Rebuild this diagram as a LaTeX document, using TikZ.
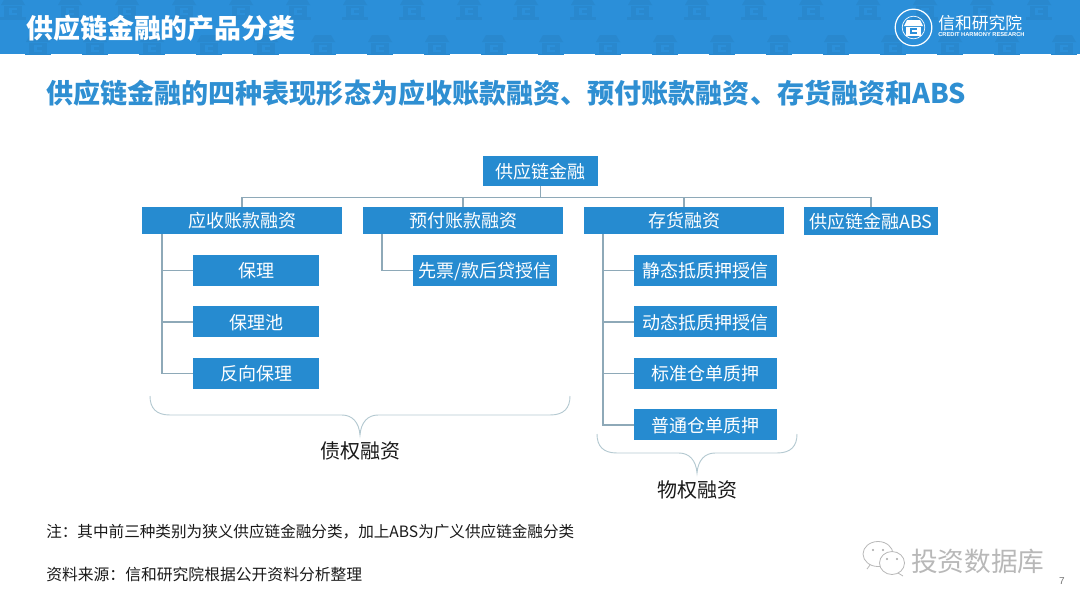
\documentclass[tikz,border=0pt]{standalone}
\usepackage{fontspec}
\setmainfont{Noto Sans CJK SC}
\newfontfamily\latinfont{Liberation Sans}
\usepackage{tikz}
\usetikzlibrary{positioning}
\definecolor{bandblue}{HTML}{2B8FD9}
\definecolor{iconblue}{HTML}{2988CE}
\definecolor{boxblue}{HTML}{268BD0}
\definecolor{headblue}{HTML}{2F8FD2}
\definecolor{linkgrey}{HTML}{8EA9B8}
\definecolor{bracegrey}{HTML}{B4C9D1}
\tikzset{
  l0/.style={fill=boxblue,text=white,font=\fontsize{13.5pt}{16pt}\selectfont,inner sep=0pt,text height=12.5pt,text depth=1.5pt,minimum width=86.25pt,minimum height=22.5pt},
  l1/.style={l0,minimum width=150pt,minimum height=20.25pt},
  l2/.style={l0,minimum width=94.5pt,minimum height=23.25pt},
  l2wide/.style={l2,minimum width=107.25pt},
  link/.style={draw=linkgrey,line width=1.1pt},
  lcurly/.style={draw=bracegrey,line width=.7pt},
  sidelabel/.style={text=black!90,font=\fontsize{15pt}{18pt}\selectfont},
  notetext/.style={anchor=west,text=black!90,font=\fontsize{11.7pt}{14pt}\selectfont},
  bankicon/.pic={
    \fill[iconblue] (-12,-3) -- (-8,-10) -- (8,-10) -- (12,-3) -- cycle;
    \fill[iconblue] (-9,-2) rectangle (9,9);
    \fill[iconblue] (-13,9) rectangle (13,12);
    \fill[bandblue] (-4,0) rectangle (4,7);
    \fill[iconblue] (-1,2) rectangle (5,5);
  }
}
\begin{document}
\begin{tikzpicture}[x=.75pt,y=-.75pt,node distance=38.6pt and 165.75pt,on grid]
  \useasboundingbox (0,0) rectangle (1080,608);
  % header
  \fill[bandblue] (0,0) rectangle (1080,54);
  \begin{scope}
    \clip (0,0) rectangle (1080,54);
    \foreach \i in {0,...,18} {
      \pic at (13+\i*57,8) {bankicon};
      \pic at (38+\i*57,45) {bankicon};
    }
  \end{scope}
  \node[anchor=west,inner sep=0pt,text=white,font=\fontsize{20.2pt}{24pt}\bfseries] (title) at (26,28) {供应链金融的产品分类};
  \node[draw=white,circle,line width=.9pt,minimum size=27.5pt,inner sep=0pt] (logo) at (913.5,27.5) {};
  \node[draw=white,circle,line width=.5pt,minimum size=17pt,inner sep=0pt] (logoin) at (logo) {};
  \fill[white] (904,26) -- (907,20) -- (920,20) -- (923,26) -- cycle;
  \fill[white] (906,27) rectangle (921,36);
  \fill[bandblue] (910,28) rectangle (917,34);
  \fill[white] (912,30) rectangle (919,32);
  \node[text=white,font=\fontsize{12.6pt}{14pt}\selectfont,anchor=west,inner sep=0pt] (brand) at (938,23) {信和研究院};
  \node[text=white,font=\latinfont\bfseries\fontsize{4.3pt}{5pt}\selectfont,anchor=west,inner sep=0pt] (branden) at (938,35) {CREDIT HARMONY RESEARCH};
  \node[anchor=west,inner sep=0pt,text=headblue,font=\fontsize{20.3pt}{24pt}\bfseries] (head) at (46,93) {供应链金融的四种表现形态为应收账款融资、预付账款融资、存货融资和ABS};
  % tree
  \node[l0] (root) at (540.5,171) {供应链金融};
  \node[l1] (ar) at (242,220.5) {应收账款融资};
  \node[l1] (pre) [right=of ar] {预付账款融资};
  \node[l1] (inv) [right=of pre] {存货融资};
  \node[l0,minimum width=100.5pt,minimum height=21pt] (abs) at (871,221) {供应链金融ABS};
  \node[l2] (ar1) at (256,270.5) {保理};
  \node[l2] (ar2) [below=of ar1] {保理池};
  \node[l2] (ar3) [below=of ar2] {反向保理};
  \node[l2,minimum width=108pt] (pre1) at (485,270.5) {先票/款后贷授信};
  \node[l2wide] (inv1) at (705.5,270.5) {静态抵质押授信};
  \node[l2wide] (inv2) [below=of inv1] {动态抵质押授信};
  \node[l2wide] (inv3) [below=of inv2] {标准仓单质押};
  \node[l2wide] (inv4) [below=of inv3] {普通仓单质押};
  \foreach \t in {ar,pre,inv,abs}
    \draw[link] (root.south) -- ++(0,11) -| (\t.north);
  \coordinate (artrunk) at (162,234);
  \coordinate (pretrunk) at (382,234);
  \coordinate (invtrunk) at (603,234);
  \foreach \t in {ar1,ar2,ar3}
    \draw[link] (artrunk) |- (\t.west);
  \draw[link] (pretrunk) |- (pre1.west);
  \foreach \t in {inv1,inv2,inv3,inv4}
    \draw[link] (invtrunk) |- (\t.west);
  % braces
  \foreach \l/\m/\r/\t in {150/360/570/396,597/697/797/434}
    \draw[lcurly] (\l,\t) .. controls (\l,\t+12) and (\l+6,\t+19) .. (\l+20,\t+19)
      -- (\m-18,\t+19) .. controls (\m-8,\t+19) and (\m-1,\t+26) .. (\m,\t+39)
      .. controls (\m+1,\t+26) and (\m+8,\t+19) .. (\m+18,\t+19)
      -- (\r-20,\t+19) .. controls (\r-6,\t+19) and (\r,\t+12) .. (\r,\t);
  \node[sidelabel] (debt) at (360,451) {债权融资};
  \node[sidelabel] (prop) at (697,490) {物权融资};
  % notes
  \node[notetext,inner sep=0pt] (note) at (46,532) {注：其中前三种类别为狭义供应链金融分类，加上ABS为广义供应链金融分类};
  \node[notetext,inner sep=0pt,font=\fontsize{11.85pt}{14pt}\selectfont] (src) at (46,574) {资料来源：信和研究院根据公开资料分析整理};
  % watermark
  \node[anchor=west,inner sep=0pt,text=black!28,font=\fontsize{20pt}{24pt}\selectfont] (mark) at (911,561) {投资数据库};
  \draw[black!28,line width=.6pt,fill=white] (878,554) ellipse (15 and 12.5);
  \draw[black!28,line width=.6pt] (870,565) -- (867,569);
  \draw[black!28,line width=.6pt,fill=white] (892,563) ellipse (12.5 and 11.5);
  \draw[black!28,line width=.6pt] (898,573) -- (903,576);
  \foreach \p in {(873,550),(883,550),(887,559),(897,559)}
    \fill[black!35] \p circle (1.1);
  \node[text=black!55,font=\latinfont\fontsize{7.5pt}{9pt}\selectfont] (pageno) at (1062,581) {7};
\end{tikzpicture}
\end{document}
